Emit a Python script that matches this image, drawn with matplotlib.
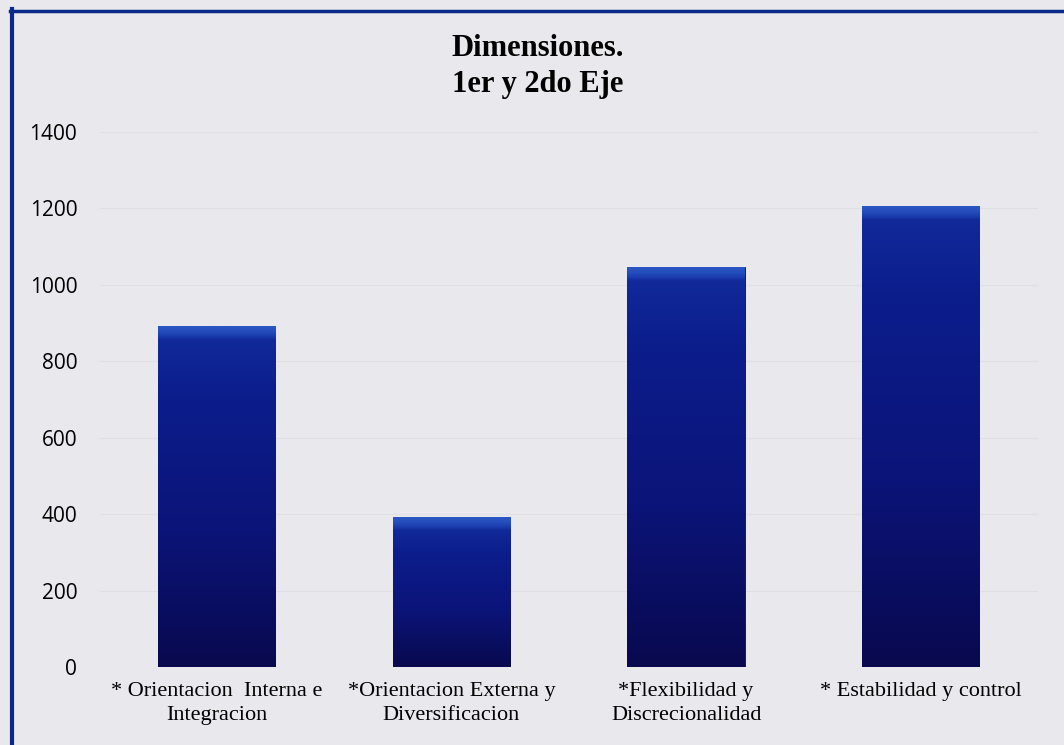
import matplotlib.pyplot as plt
import numpy as np
from matplotlib.colors import LinearSegmentedColormap
from matplotlib.lines import Line2D

# Datos del grafico
categorias = ['* Orientacion  Interna e\nIntegracion',
              '*Orientacion Externa y\nDiversificacion',
              '*Flexibilidad y\nDiscrecionalidad',
              '* Estabilidad y control']
valores = [893, 393, 1047, 1207]
ticks_y = [0, 200, 400, 600, 800, 1000, 1200, 1400]

fondo = '#e9e9ed'
fig = plt.figure(figsize=(10.64, 7.45), dpi=100, facecolor=fondo)
ax = fig.add_axes([99.5 / 1064, 1 - 667 / 745, (1038 - 99.5) / 1064, (667 - 132) / 745])
ax.set_facecolor(fondo)

x = np.arange(len(categorias))
barras = ax.bar(x, valores, width=0.5, color='#0b1270', edgecolor='#08084a', linewidth=0.6, zorder=2)

# degradado vertical dentro de cada barra (oscuro abajo, brillo arriba)
cmap = LinearSegmentedColormap.from_list('azul', ['#09094f', '#0b1478', '#0c1d8c', '#1a3cae', '#2a55c2'])
grad = np.linspace(0, 1, 300).reshape(-1, 1)
for b in barras:
    x0, y0 = b.get_x(), b.get_y()
    w, h = b.get_width(), b.get_height()
    # franja brillante en la parte superior (~14 px), con transicion suave
    frac_top = min(14 / (h / 1400 * 535), 0.5)
    base = 1 - frac_top
    g = np.where(grad < base, grad / base * 0.6,
                 0.6 + np.sin((grad - base) / frac_top * np.pi / 2) * 0.4)
    im = ax.imshow(g, cmap=cmap, origin='lower', aspect='auto',
                   extent=[x0, x0 + w, y0, y0 + h], zorder=3, vmin=0, vmax=1)
    im.set_clip_path(b)

ax.set_xlim(-0.5, len(categorias) - 0.5)
ax.set_ylim(0, 1400)
ax.set_yticks(ticks_y)
ax.set_yticklabels([str(t) for t in ticks_y], fontsize=15, family='Open Sans')
ax.set_xticks(x)
ax.set_xticklabels(categorias, fontsize=16, family='Liberation Serif', linespacing=1.35)
ax.tick_params(axis='y', length=0, pad=16)
ax.tick_params(axis='x', length=0, pad=11)
ax.grid(axis='y', color='#e0e0e4', linewidth=0.8, zorder=0)
for s in ax.spines.values():
    s.set_visible(False)

fig.text(538 / 1064, 1 - 34 / 745, 'Dimensiones.\n1er y 2do Eje', ha='center', va='top',
         fontsize=22, fontweight='bold', family='Liberation Serif', linespacing=1.3)

# marco azul
azul = '#0a2a8a'
fig.add_artist(Line2D([12 / 1064, 12 / 1064], [0, 1 - 9 / 745], color=azul, linewidth=3,
                      transform=fig.transFigure))
fig.add_artist(Line2D([10 / 1064, 1], [1 - 10.5 / 745, 1 - 10.5 / 745], color=azul, linewidth=2.5,
                      transform=fig.transFigure))

fig.savefig('out.png', dpi=100, facecolor=fondo)
